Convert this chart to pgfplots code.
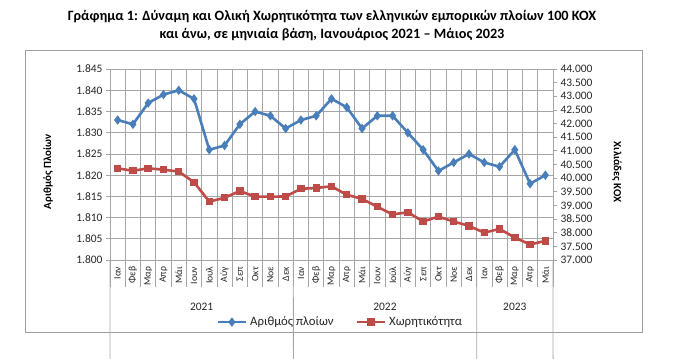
\documentclass[border=0pt]{standalone}
\usepackage{pgfplots}
\pgfplotsset{compat=1.18}
\usepackage{fontspec}
\setmainfont{Carlito}
\definecolor{sblue}{HTML}{4A7EBB}
\definecolor{sred}{HTML}{BE4B48}
\definecolor{gridc}{HTML}{A6A6A6}
\definecolor{boxc}{HTML}{A0A0A0}
\begin{document}
\begin{tikzpicture}
\path[use as bounding box] (0,0) rectangle (676bp,359bp);
\draw[boxc, line width=0.8bp] (25bp,27bp) rectangle (642bp,309bp);
\node[font=\bfseries\fontsize{14.3}{16}\selectfont] at (332bp,342bp) {Γράφημα 1: Δύναμη και Ολική Χωρητικότητα των ελληνικών εμπορικών πλοίων 100 ΚΟΧ};
\node[font=\bfseries\fontsize{14.3}{16}\selectfont] at (332bp,324bp) {και άνω, σε μηνιαία βάση, Ιανουάριος 2021 – Μάιος 2023};
\node[rotate=90, font=\bfseries\fontsize{11}{13}\selectfont] at (48bp,187bp) {Αριθμός Πλοίων};
\node[rotate=-90, font=\bfseries\fontsize{11}{13}\selectfont] at (617bp,187bp) {Χιλιάδες ΚΟΧ};
\begin{axis}[
  at={(110bp,99bp)}, anchor=south west, scale only axis,
  width=443bp, height=191bp,
  xmin=-0.5, xmax=28.5, ymin=1800, ymax=1845,
  ytick={1800,1805,...,1845},
  xtick={0,...,28},
  xticklabels={Ιαν,Φεβ,Μαρ,Απρ,Μάι,Ιουν,Ιουλ,Αύγ,Σεπ,Οκτ,Νοε,Δεκ,Ιαν,Φεβ,Μαρ,Απρ,Μάι,Ιουν,Ιούλ,Αύγ,Σεπ,Οκτ,Νοε,Δεκ,Ιαν,Φεβ,Μαρ,Απρ,Μάι},
  minor xtick={-0.5,0.5,...,28.5},
  xtick pos=left, ytick pos=left,
  tick align=outside,
  major tick length=4bp, minor tick length=27bp,
  major x tick style={draw=none},
  minor tick style={gridc, line width=0.8bp},
  ytick style={gridc, line width=0.8bp},
  ymajorgrids, xminorgrids,
  major grid style={gridc, line width=0.8bp},
  minor grid style={gridc, line width=0.8bp},
  axis line style={gridc, line width=0.8bp},
  xticklabel style={rotate=90, anchor=east, font=\fontsize{9.8}{11}\selectfont, text=black!85, inner sep=2.5bp},
  yticklabel style={font=\fontsize{11.5}{13}\selectfont, text=black!85},
  scaled y ticks=false,
  /pgf/number format/fixed,
  /pgf/number format/assume math mode=true,
  /pgf/number format/1000 sep={.},
  clip mode=individual,
]
\addplot[sblue, line width=2.6bp, mark=diamond*, mark size=2.6bp, mark options={solid}] coordinates {
(0,1833)(1,1832)(2,1837)(3,1839)(4,1840)(5,1838)(6,1826)(7,1827)(8,1832)(9,1835)(10,1834)(11,1831)
(12,1833)(13,1834)(14,1838)(15,1836)(16,1831)(17,1834)(18,1834)(19,1830)(20,1826)(21,1821)(22,1823)(23,1825)
(24,1823)(25,1822)(26,1826)(27,1818)(28,1820)};
\draw[gridc, line width=0.8bp] (axis cs:-0.5,1800) -- ++(0,-57bp);
\draw[gridc, line width=0.8bp] (axis cs:11.5,1800) -- ++(0,-57bp);
\draw[gridc, line width=0.8bp] (axis cs:23.5,1800) -- ++(0,-57bp);
\draw[gridc, line width=0.8bp] (axis cs:28.5,1800) -- ++(0,-57bp);
\node[font=\fontsize{11.5}{13}\selectfont, text=black!85] at (axis cs:5.5,1800) [yshift=-47bp] {2021};
\node[font=\fontsize{11.5}{13}\selectfont, text=black!85] at (axis cs:17.5,1800) [yshift=-47bp] {2022};
\node[font=\fontsize{11.5}{13}\selectfont, text=black!85] at (axis cs:26,1800) [yshift=-47bp] {2023};
\end{axis}
\begin{axis}[
  at={(110bp,99bp)}, anchor=south west, scale only axis,
  width=443bp, height=191bp,
  xmin=-0.5, xmax=28.5, ymin=37000, ymax=44000,
  ytick={37000,37500,...,44000},
  axis x line=none, axis y line*=right,
  axis line style={gridc, line width=0.8bp, -},
  tick align=outside, major tick length=4bp,
  ytick style={gridc, line width=0.8bp},
  yticklabel style={font=\fontsize{11.5}{13}\selectfont, text=black!85},
  scaled y ticks=false,
  /pgf/number format/fixed,
  /pgf/number format/assume math mode=true,
  /pgf/number format/1000 sep={.},
  legend columns=2,
  legend style={at={(0.52,-0.325)}, anchor=center, draw=none, fill=none,
    font=\fontsize{12.8}{14}\selectfont, text=black!85, inner sep=0pt,
    /tikz/every odd column/.append style={column sep=1bp},
    /tikz/every even column/.append style={column sep=20bp}},
  legend image code/.code={\draw[mark repeat=2, mark phase=2, #1] plot coordinates {(0bp,0bp)(14bp,0bp)(28bp,0bp)};},
]
\addlegendimage{sblue, line width=2.6bp, mark=diamond*, mark size=2.6bp}
\addlegendentry{Αριθμός πλοίων}
\addplot[sred, line width=2.6bp, mark=square*, mark size=2.4bp, mark options={solid}] coordinates {
(0,40360)(1,40270)(2,40360)(3,40310)(4,40240)(5,39850)(6,39140)(7,39280)(8,39530)(9,39320)(10,39320)(11,39330)
(12,39610)(13,39640)(14,39700)(15,39390)(16,39240)(17,38950)(18,38670)(19,38750)(20,38410)(21,38590)(22,38410)(23,38250)
(24,38000)(25,38140)(26,37820)(27,37570)(28,37700)};
\addlegendentry{Χωρητικότητα}
\end{axis}
\end{tikzpicture}
\end{document}
